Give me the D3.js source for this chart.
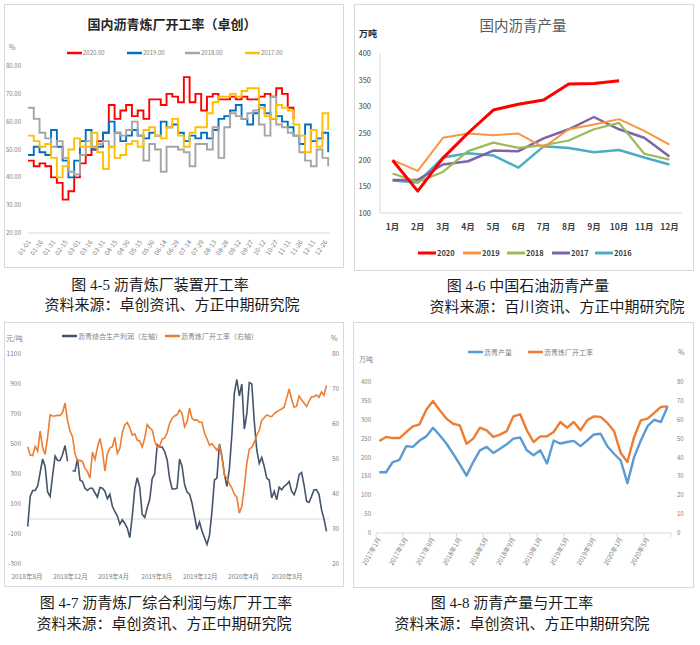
<!DOCTYPE html>
<html>
<head>
<meta charset="utf-8">
<script src="https://cdn.jsdelivr.net/npm/d3@7"></script>
<style>
body{margin:0;background:#fff;}
</style>
</head>
<body>
<svg id="chart" width="700" height="645"></svg>
<script>
// ---- 图4-5 国内沥青炼厂开工率（卓创），周度，% ----
var rateTicks=['01-01','01-16','01-31','02-15','03-01','03-16','03-31','04-15','04-30','05-15','05-30','06-14','06-29',
    '07-14','07-29','08-13','08-28','09-12','09-27','10-12','10-27','11-11','11-26','12-11','12-26'];
var rate2020=[46,44,45,44,40,38,32,35,40,45,48,50,53,56,66,61,64,66,62,64,61,68,68,66,70,69,67,76,67,70,64,69,70,68,68,69,68,69,68,68,69,70,69,72,70,65,61];
var rate2019=[48,51,49,48,57,51,46,40,46,53,57,50,51,56,60,56,53,55,57,55,54,56,55,60,58,59,56,53,55,54,56,54,57,61,62,64,66,61,59,63,66,63,61,62,60,58,55,52,59,53,54,56,49];
var rate2018=[65,61,56,54,51,53,47,42,41,48,53,51,52,53,51,56,55,57,60,55,46,52,50,42,51,51,50,49,44,52,52,50,58,47,58,63,62,61,63,64,59,55,69,59,58,56,55,49,46,44,50,47,44];
var rate2017=[55,53,51,52,47,40,44,50,54,51,51,56,49,43,51,47,48,52,53,51,57,58,55,54,58,61,55,51,56,58,58,63,67,69,69,70,69,71,72,72,65,62,61,66,65,64,59,55,49,57,51,63,57];

// ---- 图4-6 中国石油沥青产量，万吨 ----
var monthNames=['1月','2月','3月','4月','5月','6月','7月','8月','9月','10月','11月','12月'];
var output2020=[199,141,203,250,293,304,312,342,343,348];
var output2019=[199,179,241,249,246,249,223,257,266,276,254,228];
var output2018=[174,158,177,216,232,222,227,236,257,269,211,200];
var output2017=[162,162,191,197,217,216,240,257,280,257,241,206];
var output2016=[161,157,204,212,208,185,225,222,214,218,204,191];

// ---- 图4-7 综合利润（元/吨，左轴）与开工率（%，右轴），周度，2018-08-03起 ----
var profitStart=new Date(2018,7,3);
var profitTicks=['2018年8月','2018年12月','2019年4月','2019年8月','2019年12月','2020年4月','2020年8月'];
var profit=[-50,150,190,190,220,310,400,350,180,150,290,420,390,390,430,490,385,null,320,320,
    400,260,250,205,190,205,205,175,145,210,205,185,135,165,85,50,20,-35,-5,-30,
    -60,-125,20,200,275,210,30,10,75,130,270,300,495,480,480,450,395,270,200,200,
    205,400,350,230,180,165,105,20,-70,-20,-80,-125,-170,-110,50,260,273,500,420,300,
    218,335,560,840,930,820,900,600,700,910,900,650,460,370,410,350,273,260,140,185,
    129,212,195,218,230,250,185,162,210,295,310,225,118,110,151,195,195,165,62,0,-82];
var plantRate=[53.5,51.1,51.0,53.6,52.2,58.0,53.2,51.3,56.3,62.6,
    62.3,62.3,62.5,62.4,63.3,66,61,58,56.4,51.5,
    49.5,49.6,49.3,47.3,46.4,44.5,52,49.8,53.3,55.9,
    52.5,46.5,51.5,53.1,53.5,56.2,51.6,53,57.5,59.8,
    60.4,58.9,56.8,57.2,55.4,55.1,53.4,56,59.8,58.9,
    58.3,55.2,53.3,53.8,55.6,56,57.5,60.2,61.6,62.3,
    62.7,64,63,59.2,60.6,64.5,61.6,61.1,61.2,60.5,
    60.5,57.4,55.8,53.9,54.4,53.4,52.5,53.7,50.6,45.3,
    44.6,42.9,41.7,39.9,39.1,34.5,36.5,42,48.7,52.8,
    53.3,54.8,56.8,58.2,61.1,61.8,62.6,62.3,62.1,63,
    63.5,63.9,64.3,64.8,67.4,70,67,64.8,65.1,68,
    66.9,66,65,66.5,67.8,67.8,68.3,67.6,69.2,68.2,
    71];

// ---- 图4-8 沥青产量（万吨）与开工率（%），月度 2017-01 ~ 2020-08 ----
var monthTicks=['2017年1月','2017年5月','2017年9月','2018年1月','2018年5月','2018年9月','2019年1月','2019年5月','2019年9月','2020年1月','2020年5月'];
var monthlyOutput=[161,161,188,194,230,228,245,256,279,259,237,210,182,152,188,219,228,212,223,235,
    250,253,219,206,219,184,245,237,241,244,230,245,261,263,230,210,192,132,201,245,283,300,294,336];
var monthlyRate=[48.7,50.9,50.3,50.3,53.5,56.5,57.6,65.3,69.9,65,60.6,57.9,57.0,47.3,50,55.8,54.4,50.9,52.1,54,
    61.8,62.9,54.4,48.2,51.2,51.2,53.5,58.8,55.8,58.8,54.4,59.7,61.8,61.5,58.3,54,42.4,37.6,50.9,59.7,60.6,63.6,66.8,67.1];

var svg=d3.select('#chart');
var sans='"Noto Sans CJK SC","Liberation Sans",sans-serif';
var serif='"Liberation Serif","Noto Sans CJK SC",serif';

function panel(x,y,w,h){
    svg.append('rect')
        .attr('x',x+0.5).attr('y',y+0.5)
        .attr('width',w).attr('height',h)
        .attr('fill','#fff')
        .attr('stroke','#d9d9d9');
}

function caption(x,y,txt){
    svg.append('text')
        .attr('x',x).attr('y',y)
        .attr('text-anchor','middle')
        .style('font-family',serif)
        .style('font-size','15px')
        .attr('fill','#1a1a1a')
        .text(txt);
}

function label(g,x,y,txt,size,color,anchor,weight){
    return g.append('text')
        .attr('x',x).attr('y',y)
        .attr('text-anchor',anchor||'start')
        .style('font-family',sans)
        .style('font-size',size+'px')
        .style('font-weight',weight||'normal')
        .attr('fill',color)
        .text(txt);
}

function legendItem(g,x1,x2,y,color,width,txt,size,txtColor,weight){
    g.append('line')
        .attr('x1',x1).attr('x2',x2).attr('y1',y).attr('y2',y)
        .attr('stroke',color).attr('stroke-width',width);
    label(g,x2+1,y+size*0.38,txt,size,txtColor,'start',weight);
}

function drawRates(){
    var g=svg.append('g');
    var x=d3.scaleLinear().domain([0,365]).range([28,329]);
    var y=d3.scaleLinear().domain([20,80]).range([233,66]);
    var grey='#7f7f7f';

    label(g,172,29,'国内沥青炼厂开工率（卓创）',13,'#262626','middle','bold');
    label(g,9,50,'%',7,grey);

    y.ticks(6).forEach(function(v){
        label(g,21,y(v)+2,d3.format('.2f')(v),6,grey,'end');
    });
    g.append('line')
        .attr('x1',28).attr('x2',330).attr('y1',y(20)).attr('y2',y(20))
        .attr('stroke','#d9d9d9');
    rateTicks.forEach(function(t,i){
        label(g,0,0,t,6.5,grey,'end')
            .attr('transform','translate('+(x(i*15)+3)+',242) rotate(-55)');
    });

    var series=[
        {name:'2020.00',color:'#ff0000',values:rate2020},
        {name:'2019.00',color:'#0070c0',values:rate2019},
        {name:'2018.00',color:'#a5a5a5',values:rate2018},
        {name:'2017.00',color:'#ffc000',values:rate2017}
    ];
    var line=d3.line()
        .x(function(d,i){return x(i*7);})
        .y(function(d){return y(d);})
        .curve(d3.curveStepAfter);
    series.forEach(function(s){
        g.append('path')
            .attr('d',line(s.values))
            .attr('fill','none')
            .attr('stroke',s.color)
            .attr('stroke-width',1.9);
    });
    var legendX=[67,127,185,245];
    series.forEach(function(s,i){
        legendItem(g,legendX[i],legendX[i]+15,53,s.color,2.5,s.name,6,grey);
    });
}

function drawOutput(){
    var g=svg.append('g');
    var x=d3.scaleBand().domain(monthNames).range([380,682]);
    var y=d3.scaleLinear().domain([100,400]).range([213,53]);
    var dark='#404040';

    label(g,523,31,'国内沥青产量',14.5,'#595959','middle');
    label(g,359,37,'万吨',9,'#262626','start','bold');

    y.ticks(6).forEach(function(v){
        label(g,371,y(v)+3,v,7.5,dark,'end');
    });
    g.append('line')
        .attr('x1',380).attr('x2',380).attr('y1',y(400)).attr('y2',y(100))
        .attr('stroke','#d9d9d9');
    g.append('line')
        .attr('x1',380).attr('x2',682).attr('y1',y(100)).attr('y2',y(100))
        .attr('stroke','#d9d9d9');
    monthNames.forEach(function(m){
        label(g,x(m)+x.bandwidth()/2,230,m,8.5,dark,'middle','bold');
    });

    var series=[
        {name:'2020',color:'#ff0000',width:3,values:output2020},
        {name:'2019',color:'#f79646',width:2,values:output2019},
        {name:'2018',color:'#9bbb59',width:2.2,values:output2018},
        {name:'2017',color:'#8064a2',width:2.5,values:output2017},
        {name:'2016',color:'#4bacc6',width:2.5,values:output2016}
    ];
    var line=d3.line()
        .x(function(d,i){return x(monthNames[i])+x.bandwidth()/2;})
        .y(function(d){return y(d);});
    series.slice().reverse().forEach(function(s){
        g.append('path')
            .attr('d',line(s.values))
            .attr('fill','none')
            .attr('stroke',s.color)
            .attr('stroke-width',s.width)
            .attr('stroke-linejoin','round');
    });
    var legendX=[418,463,507,552,595];
    series.forEach(function(s,i){
        legendItem(g,legendX[i],legendX[i]+18,253,s.color,3,s.name,7.5,dark,'bold');
    });
}

function drawProfit(){
    var g=svg.append('g');
    var dates=profit.map(function(d,i){return d3.timeDay.offset(profitStart,i*7);});
    var x=d3.scaleTime().domain([new Date(2018,7,1),new Date(2020,7,1)]).range([27,287]);
    var yl=d3.scaleLinear().domain([-300,1100]).range([564,354]);
    var yr=d3.scaleLinear().domain([20,80]).range([564,354]);
    var grey='#7f7f7f';

    label(g,6,341,'元/吨',7,grey);
    label(g,331,341,'%',7,grey);
    legendItem(g,62,77,336,'#44546a',2.5,'沥青综合生产利润（左轴）',7,grey);
    legendItem(g,165,180,336,'#ed7d31',2.5,'沥青炼厂开工率（右轴）',7,grey);

    d3.range(-300,1101,200).forEach(function(v){
        label(g,21,yl(v)+2,v,6.5,grey,'end');
    });
    yr.ticks(6).forEach(function(v){
        label(g,332,yr(v)+2,v,6.5,grey,'start');
    });
    g.append('line')
        .attr('x1',27).attr('x2',329).attr('y1',yl(0)).attr('y2',yl(0))
        .attr('stroke','#d9d9d9');
    profitTicks.forEach(function(t,i){
        label(g,x(d3.timeMonth.offset(new Date(2018,7,1),i*4)),579,t,6.5,grey,'middle');
    });

    var leftLine=d3.line()
        .defined(function(d){return d!==null;})
        .x(function(d,i){return x(dates[i]);})
        .y(function(d){return yl(d);});
    var rightLine=d3.line()
        .x(function(d,i){return x(dates[i]);})
        .y(function(d){return yr(d);});
    g.append('path')
        .attr('d',leftLine(profit))
        .attr('fill','none')
        .attr('stroke','#44546a')
        .attr('stroke-width',1.6);
    g.append('path')
        .attr('d',rightLine(plantRate))
        .attr('fill','none')
        .attr('stroke','#ed7d31')
        .attr('stroke-width',1.6);
}

function drawOutputRate(){
    var g=svg.append('g');
    var idx=d3.range(monthlyOutput.length);
    var x=d3.scaleBand().domain(idx).range([376,671]);
    var yl=d3.scaleLinear().domain([0,400]).range([533,382]);
    var yr=d3.scaleLinear().domain([0,80]).range([533,382]);
    var grey='#7f7f7f';

    legendItem(g,468,483,352,'#5b9bd5',2.5,'沥青产量',7,grey);
    legendItem(g,528,543,352,'#ed7d31',2.5,'沥青炼厂开工率',7,grey);
    label(g,359,362,'万吨',7,grey);
    label(g,678,355,'%',7,grey);

    yl.ticks(8).forEach(function(v){
        label(g,371,yl(v)+2,v,6,grey,'end');
    });
    yr.ticks(8).forEach(function(v){
        label(g,677,yr(v)+2,v,6,grey,'start');
    });
    g.append('line')
        .attr('x1',376).attr('x2',671).attr('y1',yl(0)).attr('y2',yl(0))
        .attr('stroke','#d9d9d9');
    idx.filter(function(i){return i%4===0;}).concat([idx.length]).forEach(function(i){
        var tx=i<idx.length?x(i):671;
        g.append('line')
            .attr('x1',tx).attr('x2',tx).attr('y1',yl(0)).attr('y2',yl(0)+4)
            .attr('stroke','#d9d9d9');
    });
    monthTicks.forEach(function(t,k){
        var cx=x(k*4)+x.bandwidth()/2;
        label(g,0,0,t,6.5,grey,'end')
            .attr('transform','translate('+(cx+2)+',539) rotate(-60)');
    });

    var cx=function(d,i){return x(i)+x.bandwidth()/2;};
    g.append('path')
        .attr('d',d3.line().x(cx).y(function(d){return yl(d);})(monthlyOutput))
        .attr('fill','none')
        .attr('stroke','#5b9bd5')
        .attr('stroke-width',2.4)
        .attr('stroke-linejoin','round');
    g.append('path')
        .attr('d',d3.line().x(cx).y(function(d){return yr(d);})(monthlyRate))
        .attr('fill','none')
        .attr('stroke','#ed7d31')
        .attr('stroke-width',2.4)
        .attr('stroke-linejoin','round');
}

panel(4,4,339,263);
panel(354,4,339,266);
panel(4,322,339,264);
panel(353,322,340,265);

drawRates();
drawOutput();
drawProfit();
drawOutputRate();

caption(160,290,'图 4-5  沥青炼厂装置开工率');
caption(172,310,'资料来源：卓创资讯、方正中期研究院');
caption(528,291,'图 4-6  中国石油沥青产量');
caption(557,312,'资料来源：百川资讯、方正中期研究院');
caption(166,608,'图 4-7  沥青炼厂综合利润与炼厂开工率');
caption(164,629,'资料来源：卓创资讯、方正中期研究院');
caption(512,608,'图 4-8  沥青产量与开工率');
caption(522,629,'资料来源：卓创资讯、方正中期研究院');
</script>
</body>
</html>
